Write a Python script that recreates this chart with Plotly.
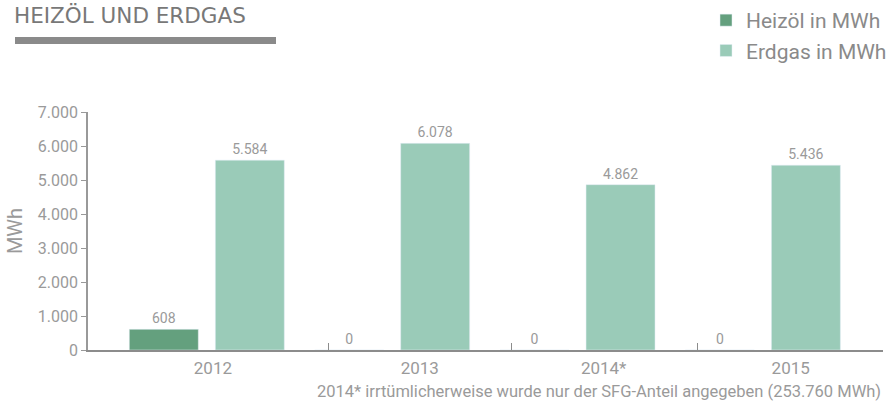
import plotly.graph_objects as go

years = ["2012", "2013", "2014*", "2015"]
heizoel = [608, 0, 0, 0]
erdgas = [5584, 6078, 4862, 5436]
y_ticks = [0, 1000, 2000, 3000, 4000, 5000, 6000, 7000]

title_text = "HEIZÖL UND ERDGAS"
footnote = "2014* irrtümlicherweise wurde nur der SFG-Anteil angegeben (253.760 MWh)"

FONT = "Roboto"
GRAY = "#9a9a9a"

fig = go.Figure()
fig.add_trace(go.Bar(
    name="Heizöl in MWh", x=years, y=heizoel,
    marker=dict(color="#64a07e"),
    text=heizoel, texttemplate="%{y:,}", textposition="outside",
    textfont=dict(family=FONT, size=14, color=GRAY), cliponaxis=False,
))
fig.add_trace(go.Bar(
    name="Erdgas in MWh", x=years, y=erdgas,
    marker=dict(color="#9acbb8"),
    text=erdgas, texttemplate="%{y:,}", textposition="outside",
    textfont=dict(family=FONT, size=14, color=GRAY), cliponaxis=False,
))
# empty helper traces so the overlay axes (ticks / labels) get drawn
fig.add_trace(go.Scatter(x=[], y=[], xaxis="x2", showlegend=False, hoverinfo="skip"))
fig.add_trace(go.Scatter(x=[], y=[], xaxis="x3", showlegend=False, hoverinfo="skip"))

rng = [-0.641, 3.648]

fig.update_layout(
    width=896, height=403,
    margin=dict(l=88, r=13, t=112, b=53),
    paper_bgcolor="white", plot_bgcolor="white",
    separators=",.",
    barmode="group", bargap=0.072, bargroupgap=0.198,
    font=dict(family=FONT, color=GRAY),
    title=dict(text=title_text, x=14 / 896, xanchor="left", xref="container",
               y=1 - 8 / 403, yanchor="top", yref="container",
               font=dict(family="DejaVu Sans", size=21.5, color="#787878")),
    legend=dict(x=(706 - 88) / 795, xanchor="left", y=1 + 3 / 403, yanchor="top", yref="container",
                font=dict(family=FONT, size=21, color="#8a8a8a"),
                bgcolor="rgba(0,0,0,0)", itemwidth=30, tracegroupgap=0),
    xaxis=dict(type="category", range=rng, showticklabels=False, ticks="",
               showline=True, linecolor="#8c8c8c", linewidth=1.5,
               showgrid=False, zeroline=False, fixedrange=True),
    xaxis2=dict(overlaying="x", anchor="y", type="linear", range=rng,
                tickmode="array", tickvals=[0.6586, 1.6456, 2.6489, 3.648],
                ticks="inside", ticklen=7, tickcolor="#8c8c8c", tickwidth=1,
                showticklabels=False, showgrid=False, zeroline=False, showline=False),
    xaxis3=dict(overlaying="x", anchor="y", type="linear", range=rng,
                tickmode="array", tickvals=[0.033, 1.149, 2.141, 3.150],
                ticktext=years, ticks="", ticklabelstandoff=6,
                tickfont=dict(family=FONT, size=17, color=GRAY),
                showgrid=False, zeroline=False, showline=False, side="bottom"),
    yaxis=dict(range=[0, 7000], tickmode="array", tickvals=y_ticks, tickformat=",",
               ticks="outside", ticklen=5, tickcolor="#999999",
               showline=True, linecolor="#999999", linewidth=1.5,
               showgrid=False, zeroline=False,
               tickfont=dict(family=FONT, size=16, color=GRAY),
               title=dict(text="MWh", font=dict(family=FONT, size=20, color=GRAY), standoff=10)),
    shapes=[dict(type="rect", xref="paper", yref="paper",
                 x0=(15 - 88) / 795, x1=(276 - 88) / 795,
                 y0=(350 - 44) / 238, y1=(350 - 37) / 238,
                 fillcolor="#8a8a8a", line=dict(width=0))],
    annotations=[dict(text=footnote, xref="paper", yref="paper", x=1.0, xanchor="right",
                      y=(350 - 391) / 238, yanchor="middle", showarrow=False,
                      font=dict(family=FONT, size=16.5, color=GRAY))],
)

fig.write_html("out.html", config={"displayModeBar": False},
               post_script="document.body.style.margin='0';")
